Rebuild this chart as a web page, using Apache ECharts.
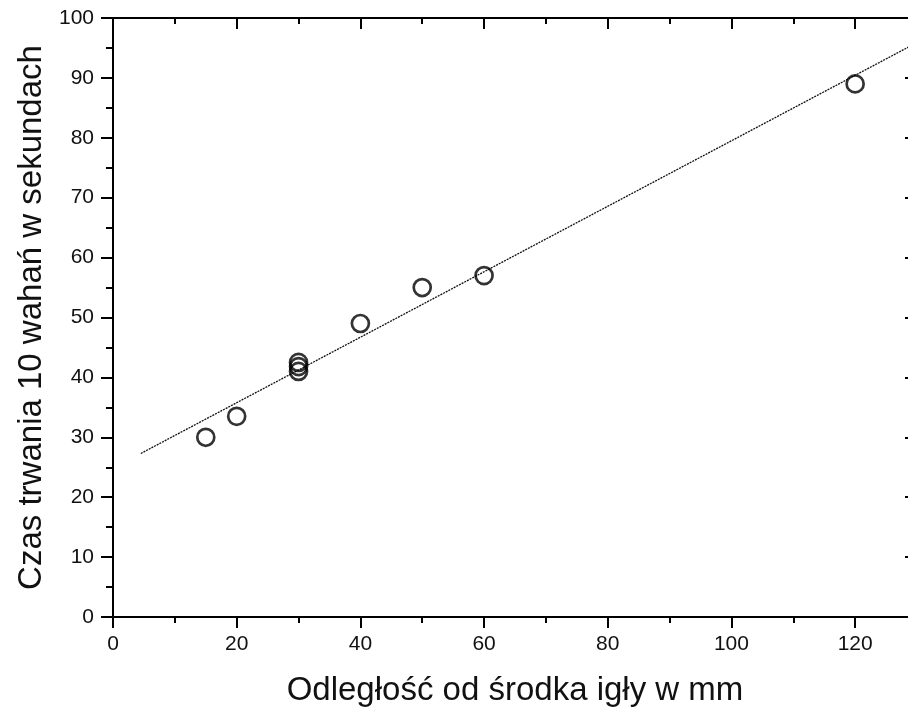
<!DOCTYPE html>
<html>
<head>
<meta charset="utf-8">
<script src="https://cdn.jsdelivr.net/npm/echarts@6/dist/echarts.min.js"></script>
<style>html,body{margin:0;padding:0;background:#fff}#c{width:908px;height:713px}</style>
</head>
<body>
<div id="c"></div>
<script>
// distance from needle centre (mm)
const distances = [15, 20, 30, 30, 30, 40, 50, 60, 120];
// time of 10 oscillations (s)
const times = [30, 33.5, 41, 41.8, 42.5, 49, 55, 57, 89];
// linear fit endpoints (x, y)
const fitX = [4.5, 130];
const fitY = [27.3, 95.9];

const xName = 'Odległość od środka igły w mm';
const yName = 'Czas trwania 10 wahań w sekundach';

const font = 'Liberation Sans, Arial, sans-serif';
const chart = echarts.init(document.getElementById('c'), null, {renderer: 'canvas'});

const axisLine = {show: true, onZero: false, lineStyle: {color: '#000', width: 2}};

chart.setOption({
  animation: false,
  backgroundColor: '#fff',
  grid: {left: 113, top: 18, width: 804, height: 599, containLabel: false, outerBoundsMode: 'none'},
  xAxis: [
    {
      type: 'value', position: 'bottom', min: 0, max: 130, interval: 20,
      name: xName, nameLocation: 'middle', nameGap: 57,
      nameTextStyle: {fontFamily: font, fontSize: 33, color: '#111'},
      axisLine: axisLine,
      axisTick: {show: true, inside: false, length: 11, lineStyle: {color: '#000', width: 2}},
      minorTick: {show: true, splitNumber: 2, length: 6, lineStyle: {color: '#000', width: 2}},
      axisLabel: {fontFamily: font, fontSize: 21, color: '#111', margin: 17,
        formatter: v => (v % 20 === 0 && v <= 120) ? String(v) : ''},
      splitLine: {show: false}
    },
    {
      type: 'value', position: 'top', min: 0, max: 130, interval: 20,
      axisLine: axisLine,
      axisTick: {show: true, inside: true, length: 11, lineStyle: {color: '#000', width: 2}},
      minorTick: {show: true, splitNumber: 2, length: 6, lineStyle: {color: '#000', width: 2}},
      axisLabel: {show: false},
      splitLine: {show: false}
    }
  ],
  yAxis: [
    {
      type: 'value', position: 'left', min: 0, max: 100, interval: 10,
      name: yName, nameLocation: 'middle', nameGap: 61, nameRotate: 90,
      nameTextStyle: {fontFamily: font, fontSize: 33, color: '#111'},
      axisLine: axisLine,
      axisTick: {show: true, inside: false, length: 12, lineStyle: {color: '#000', width: 2}},
      minorTick: {show: true, splitNumber: 2, length: 7, lineStyle: {color: '#000', width: 2}},
      axisLabel: {fontFamily: font, fontSize: 21, color: '#111', margin: 19},
      splitLine: {show: false}
    },
    {
      type: 'value', position: 'right', min: 0, max: 100, interval: 10,
      axisLine: axisLine,
      axisTick: {show: true, inside: true, length: 12, lineStyle: {color: '#000', width: 2}},
      minorTick: {show: true, splitNumber: 2, length: 7, lineStyle: {color: '#000', width: 2}},
      axisLabel: {show: false},
      splitLine: {show: false}
    }
  ],
  series: [
    {
      type: 'line',
      data: fitX.map((x, i) => [x, fitY[i]]),
      symbol: 'none',
      lineStyle: {color: '#111', width: 1.3, type: [2, 1]},
      silent: true, z: 1
    },
    {
      type: 'scatter',
      data: distances.map((x, i) => [x, times[i]]),
      symbol: 'circle', symbolSize: 17,
      itemStyle: {color: 'rgba(255,255,255,0)', borderColor: '#000', borderWidth: 2.7},
      z: 3
    }
  ]
});
</script>
</body>
</html>
